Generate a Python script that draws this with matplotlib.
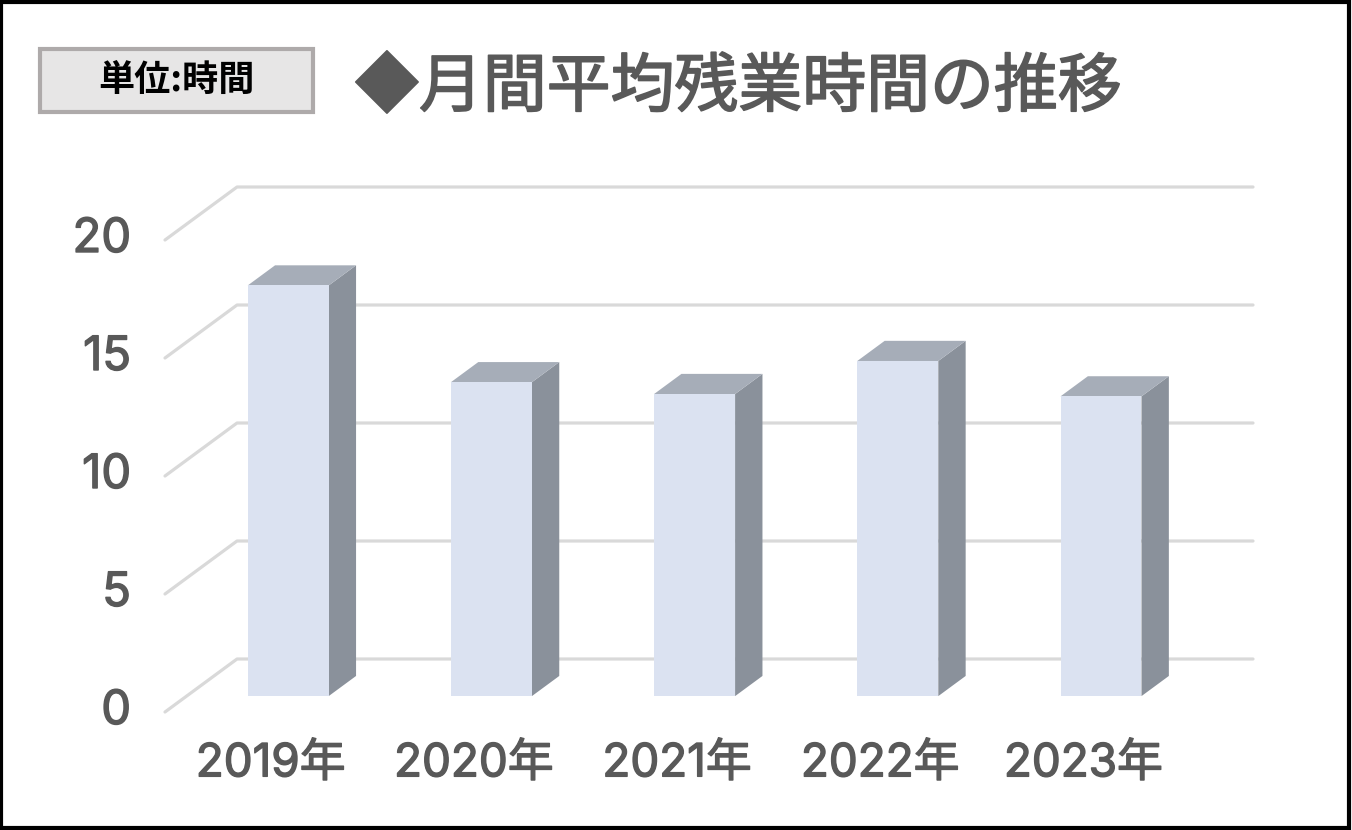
import matplotlib
matplotlib.use("Agg")
import matplotlib.pyplot as plt
from matplotlib.patches import Polygon, Rectangle
import matplotlib.patheffects as pe

plt.rcParams['font.family'] = ['Noto Sans CJK JP', 'DejaVu Sans']
num_font = ['Inter', 'Noto Sans CJK JP']

years = ['2019年', '2020年', '2021年', '2022年', '2023年']
hours = [17.4, 13.3, 12.8, 14.2, 12.7]
yticks = [0, 5, 10, 15, 20]
title = '◆月間平均残業時間の推移'
unit = '単位:時間'

W, H = 1352, 830
fig = plt.figure(figsize=(W / 100, H / 100), dpi=100)
ax = fig.add_axes([0, 0, 1, 1])

# data <-> pixel mapping of the front plane
px_cat = 203.2   # px per category
px_val = 23.6    # px per hour
x0_px, y0_px = 165, 712  # pixel of (category -0.5, value 0)
ax.set_xlim(-0.5 - x0_px / px_cat, -0.5 + (W - x0_px) / px_cat)
ax.set_ylim(-(H - y0_px) / px_val, y0_px / px_val)
ax.axis('off')

# oblique depth vector (full depth of the box)
dx, dy = 72 / px_cat, 53 / px_val
n = len(years)
grid_c = '#d9d9d9'
txt_c = '#595959'
thick = [pe.withStroke(linewidth=1.0, foreground=txt_c)]

for v in yticks:
    ax.plot([-0.5, -0.5 + dx, n - 0.5 + dx], [v, v + dy, v + dy],
            color=grid_c, lw=2.3, solid_capstyle='round', zorder=1)
    ax.text(-0.5 - 34 / px_cat, v, str(v), ha='right', va='center',
            fontsize=34, color=txt_c, family=num_font, path_effects=thick)

f1, f2 = 0.30, 0.68
hw = 40.5 / px_cat
for i, (lab, v) in enumerate(zip(years, hours)):
    xl = i - hw + f1 * dx
    xr = i + hw + f1 * dx
    yb = f1 * dy
    yt = v + f1 * dy
    ddx, ddy = (f2 - f1) * dx, (f2 - f1) * dy
    ax.add_patch(Polygon([[xr, yb], [xr + ddx, yb + ddy], [xr + ddx, yt + ddy], [xr, yt]],
                         closed=True, fc='#8a919b', ec='none', zorder=3))
    ax.add_patch(Polygon([[xl, yt], [xr, yt], [xr + ddx, yt + ddy], [xl + ddx, yt + ddy]],
                         closed=True, fc='#a6adb8', ec='none', zorder=3))
    ax.add_patch(Polygon([[xl, yb], [xr, yb], [xr, yt], [xl, yt]],
                         closed=True, fc='#dbe2f1', ec='none', zorder=4))
    ax.text(i + 0.02, -52 / px_val, lab, ha='center', va='center',
            fontsize=33, color=txt_c, family=num_font, path_effects=thick)

# title and unit box
fig.text(355 / W, 1 - 88 / H, title, ha='left', va='center',
         fontsize=46, color=txt_c,
         path_effects=[pe.withStroke(linewidth=1.2, foreground=txt_c)])
fig.patches.append(Rectangle((40 / W, 1 - 112 / H), 273 / W, 63 / H,
                             transform=fig.transFigure, fc='#e7e6e6',
                             ec='#aeaaaa', lw=3))
fig.text(176 / W, 1 - 80 / H, unit, ha='center', va='center',
         fontsize=26, color='black', fontweight='bold')

# outer frame
fig.patches.append(Rectangle((0.001, 0.002), 0.997, 0.996, transform=fig.transFigure,
                             fill=False, ec='black', lw=3))

fig.savefig('out.png', dpi=100)
